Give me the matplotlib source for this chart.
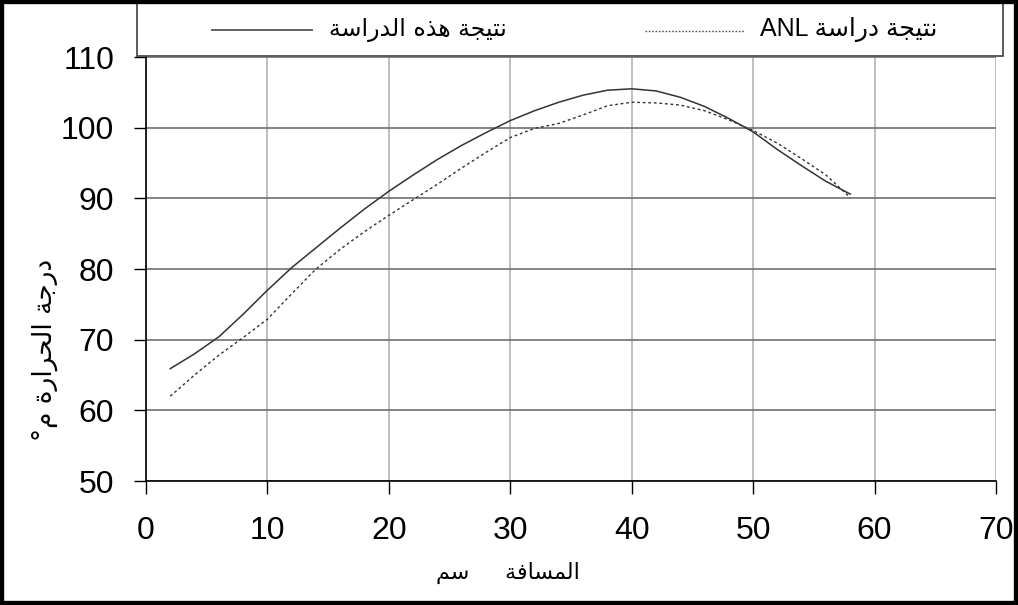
import matplotlib
matplotlib.use("Agg")
import matplotlib.pyplot as plt
from matplotlib.patches import Rectangle
from matplotlib.lines import Line2D

# distance (cm) and temperature (deg C)
x_vals = [2, 4, 6, 8, 10, 12, 14, 16, 18, 20, 22, 24, 26, 28, 30,
          32, 34, 36, 38, 40, 42, 44, 46, 48, 50, 52, 54, 56, 58]
this_study = [65.9, 68.0, 70.4, 73.6, 77.0, 80.2, 83.0, 85.8, 88.5, 91.0,
              93.3, 95.5, 97.5, 99.3, 101.0, 102.4, 103.6, 104.6, 105.3, 105.5,
              105.2, 104.3, 103.0, 101.3, 99.4, 96.9, 94.6, 92.4, 90.6]
anl_study = [62.0, 65.0, 67.8, 70.3, 72.9, 76.5, 80.0, 82.8, 85.3, 87.6,
             89.8, 92.0, 94.3, 96.5, 98.6, 99.9, 100.6, 101.8, 103.1, 103.6,
             103.5, 103.2, 102.4, 101.1, 99.6, 97.8, 95.6, 93.3, 90.1]

x_ticks = [0, 10, 20, 30, 40, 50, 60, 70]
y_ticks = [50, 60, 70, 80, 90, 100, 110]

label_this = "نتيجة هذه الدراسة"
label_anl = "نتيجة دراسة"
xlabel_txt = "المسافة     سم"
ylabel_txt = "درجة الحرارة"

# matplotlib has no Arabic shaping, so pick presentation forms by hand
FORMS = {
    "ا": (0xFE8D, 0xFE8E, None, None),
    "ة": (0xFE93, 0xFE94, None, None),
    "د": (0xFEA9, 0xFEAA, None, None),
    "ذ": (0xFEAB, 0xFEAC, None, None),
    "ر": (0xFEAD, 0xFEAE, None, None),
    "ت": (0xFE95, 0xFE96, 0xFE97, 0xFE98),
    "ج": (0xFE9D, 0xFE9E, 0xFE9F, 0xFEA0),
    "ح": (0xFEA1, 0xFEA2, 0xFEA3, 0xFEA4),
    "س": (0xFEB1, 0xFEB2, 0xFEB3, 0xFEB4),
    "ف": (0xFED1, 0xFED2, 0xFED3, 0xFED4),
    "ل": (0xFEDD, 0xFEDE, 0xFEDF, 0xFEE0),
    "م": (0xFEE1, 0xFEE2, 0xFEE3, 0xFEE4),
    "ن": (0xFEE5, 0xFEE6, 0xFEE7, 0xFEE8),
    "ه": (0xFEE9, 0xFEEA, 0xFEEB, 0xFEEC),
    "ي": (0xFEF1, 0xFEF2, 0xFEF3, 0xFEF4),
}


def dual(c):
    return c in FORMS and FORMS[c][2] is not None


def shape(text):
    out = []
    for i, c in enumerate(text):
        if c not in FORMS:
            out.append(c)
            continue
        prev = text[i - 1] if i > 0 else " "
        nxt = text[i + 1] if i + 1 < len(text) else " "
        jp = dual(prev)
        jn = dual(c) and nxt in FORMS
        iso, fin, ini, med = FORMS[c]
        if jp and jn:
            cp = med
        elif jp:
            cp = fin
        elif jn:
            cp = ini
        else:
            cp = iso
        out.append(chr(cp))
    return "".join(out)[::-1]


W, H = 1018, 605


def fx(px):
    return px / W


def fy(py):
    return 1 - py / H


plt.rcParams["font.family"] = ["Liberation Sans", "DejaVu Sans"]

fig = plt.figure(figsize=(10.18, 6.05), dpi=100)
ax = fig.add_axes([fx(146), fy(481), 850 / W, 424 / H])

ax.plot(x_vals, this_study, color="#333333", lw=1.1, ls="-")
ax.plot(x_vals, anl_study, color="#333333", lw=1.0, ls=(0, (2, 2)))

ax.set_xlim(0, 70)
ax.set_ylim(50, 110)
ax.set_xticks(x_ticks)
ax.set_yticks(y_ticks)
ax.tick_params(axis="both", labelsize=23, direction="out", length=9,
               width=1, color="black")
ax.tick_params(axis="x", pad=16)
ax.tick_params(axis="y", pad=14)
ax.xaxis.grid(True, color="#b4b4b4", lw=1.2)
ax.yaxis.grid(True, color="#707070", lw=1.2)
ax.set_axisbelow(True)
for s in ["top", "right"]:
    ax.spines[s].set_visible(False)
for s in ["left", "bottom"]:
    ax.spines[s].set_color("black")
    ax.spines[s].set_linewidth(1.2)

arabic_font = ["DejaVu Sans"]
mixed_font = ["Liberation Sans", "DejaVu Sans"]

# legend box drawn by hand to match the original layout
fig.patches.append(Rectangle((fx(137), fy(56)), fx(1003) - fx(137), fy(3) - fy(56),
                             transform=fig.transFigure, facecolor="white",
                             edgecolor="#404040", lw=1.2, zorder=5))
fig.lines.append(Line2D([fx(212), fx(312)], [fy(30), fy(30)], transform=fig.transFigure,
                        color="#555555", lw=1.3, zorder=6))
fig.lines.append(Line2D([fx(645), fx(745)], [fy(31), fy(31)], transform=fig.transFigure,
                        color="#555555", lw=1.0, ls=(0, (1.2, 1.2)), zorder=6))
fig.text(fx(507), fy(30), shape(label_this), ha="right", va="center",
         fontsize=17, family=arabic_font, zorder=7)
fig.text(fx(937), fy(30), "ANL " + shape(label_anl), ha="right", va="center",
         fontsize=18, family=mixed_font, zorder=7)

fig.text(fx(508), fy(573), shape(xlabel_txt), ha="center", va="center",
         fontsize=16, family=arabic_font)
fig.text(fx(45), fy(350), "°" + shape("م") + " " + shape(ylabel_txt),
         ha="center", va="center", rotation=90, fontsize=19, family=arabic_font)

fig.patches.append(Rectangle((0, 0), 1, 1, transform=fig.transFigure,
                             fill=False, edgecolor="black", lw=6, zorder=10))

fig.savefig("out.png", dpi=100)
